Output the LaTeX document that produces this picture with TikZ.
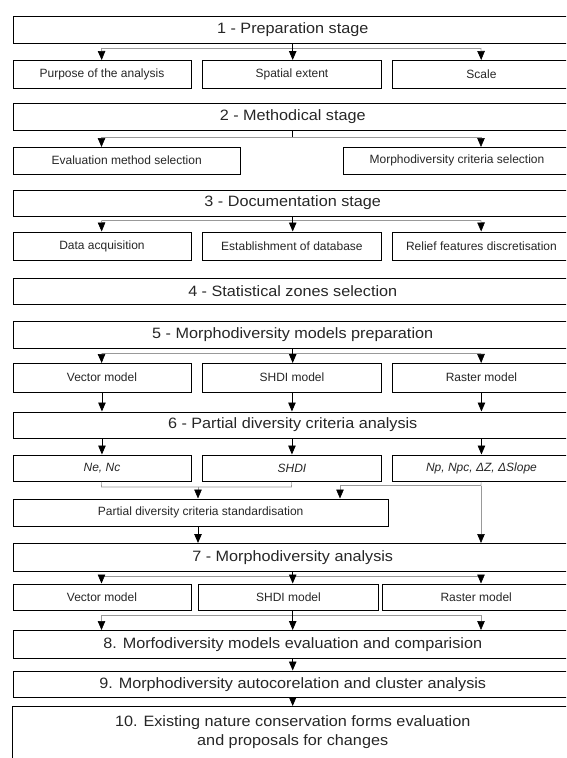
\documentclass[tikz,border=0pt]{standalone}
\usepackage{fontspec}
\setmainfont{Liberation Sans}
\newfontfamily\stagefont[FakeStretch=1.08]{Liberation Sans}
\usetikzlibrary{arrows.meta,calc}

\tikzset{
  stage/.style={draw, anchor=north west, inner sep=0pt, minimum width=559.5pt,
    text=black!85, font=\stagefont\fontsize{15}{19}\selectfont},
  sub/.style={draw, anchor=north west, inner sep=0pt, text=black!85,
    font=\fontsize{12}{14}\selectfont},
  cola/.style={sub, minimum width=178pt},
  colb/.style={sub, minimum width=179pt},
  colc/.style={sub, minimum width=178pt},
  tip/.style={-{Triangle[length=9pt,width=7.5pt,color=black]}},
  branch/.style={draw=black!40, line width=0.6pt},
}

\begin{document}
\begin{tikzpicture}[x=1pt,y=-1pt,line width=0.9pt]
\useasboundingbox (0,0) rectangle (566,758);
\clip (0,0) rectangle (566,758);
\coordinate (bottom) at (0,775);

% 1 - preparation
\node[stage, minimum height=27pt] (b1) at (12.5,16) {1 - Preparation stage};
\node[cola, minimum height=27.5pt] (r1a) at (12.5,60) {Purpose of the analysis};
\node[colb, minimum height=27.5pt] (r1b) at (202,60) {Spatial extent};
\node[colc, minimum height=27.5pt] (r1c) at (392,60) {Scale};
\coordinate (k1a) at (101.5,48);
\coordinate (k1c) at (481,48);
\draw[branch] (k1a) -- (k1c);
\draw[tip] (b1.south) -- (b1.south |- r1b.north);
\draw[branch,tip] (k1a) -- (r1a);
\draw[branch,tip] (k1c) -- (r1c);

% 2 - methodical
\node[stage, minimum height=26.5pt] (b2) at (12.5,103) {2 - Methodical stage};
\node[sub, minimum width=227.5pt, minimum height=26.5pt] (r2a) at (12.5,147) {Evaluation method selection};
\node[sub, minimum width=227pt, minimum height=26.5pt] (r2b) at (343,147) {Morphodiversity criteria selection};
\coordinate (k2a) at (101.5,137);
\coordinate (k2c) at (481,137);
\draw (b2.south) -- (b2.south |- k2a);
\draw[branch] (k2a) -- (k2c);
\draw[branch,tip] (k2a) -- (k2a |- r2a.north);
\draw[branch,tip] (k2c) -- (k2c |- r2b.north);

% 3 - documentation
\node[stage, minimum height=26pt] (b3) at (12.5,189.5) {3 - Documentation stage};
\node[cola, minimum height=28.5pt] (r3a) at (12.5,231.5) {Data acquisition};
\node[colb, minimum height=28.5pt] (r3b) at (202,231.5) {Establishment of database};
\node[colc, minimum height=28.5pt] (r3c) at (392,231.5) {Relief features discretisation};
\coordinate (k3a) at (101.5,220.5);
\coordinate (k3c) at (481,220.5);
\draw[branch] (k3a) -- (k3c);
\draw[tip] (b3.south) -- (b3.south |- r3b.north);
\draw[branch,tip] (k3a) -- (r3a);
\draw[branch,tip] (k3c) -- (r3c);

% 4 - zones
\node[stage, minimum height=26.5pt] (b4) at (12.5,277.5) {4 - Statistical zones selection};

% 5 - models
\node[stage, minimum height=26.5pt] (b5) at (12.5,321) {5 - Morphodiversity models preparation};
\node[cola, minimum height=28.5pt] (r5a) at (12.5,363) {Vector model};
\node[colb, minimum height=28.5pt] (r5b) at (202,363) {SHDI model};
\node[colc, minimum height=28.5pt] (r5c) at (392,363) {Raster model};
\coordinate (k5a) at (101.5,353.5);
\coordinate (k5c) at (481,353.5);
\draw[branch] (k5a) -- (k5c);
\draw[tip] (b5.south) -- (b5.south |- r5b.north);
\draw[branch,tip] (k5a) -- (r5a);
\draw[branch,tip] (k5c) -- (r5c);

% 6 - partial criteria
\node[stage, minimum height=26pt] (b6) at (12.5,411.5) {6 - Partial diversity criteria analysis};
\draw[tip] (r5a) -- (r5a |- b6.north);
\draw[tip] (r5b) -- (r5b |- b6.north);
\draw[tip] (r5c) -- (r5c |- b6.north);
\node[cola, minimum height=26.5pt, font=\fontsize{12}{14}\selectfont\itshape] (r6a) at (12.5,454.5) {Ne, Nc};
\node[colb, minimum height=26.5pt, font=\fontsize{12}{14}\selectfont\itshape] (r6b) at (202,454.5) {SHDI};
\node[colc, minimum height=26.5pt, font=\fontsize{12}{14}\selectfont\itshape] (r6c) at (392,454.5) {Np, Npc, ΔZ, ΔSlope};
\draw[tip] (r6a |- b6.south) -- (r6a);
\draw[tip] (r6b |- b6.south) -- (r6b);
\draw[tip] (r6c |- b6.south) -- (r6c);

% standardisation
\node[sub, minimum width=375.5pt, minimum height=27pt] (st) at (12.5,498.5) {Partial diversity criteria standardisation};
\coordinate (j6a) at (101.5,487);
\coordinate (j6b) at (291.5,487);
\coordinate (j6m) at (198,487);
\coordinate (j6c) at (481,485.5);
\coordinate (j6n) at (340,485.5);
\draw[branch] (r6a) -- (j6a) -- (j6b) -- (r6b);
\draw[branch,tip] (j6m) -- (j6m |- st.north);
\draw[branch] (r6c) -- (j6c) -- (j6n);
\draw[branch,tip] (j6n) -- (j6n |- st.north);

% 7 - analysis
\node[stage, minimum height=27.5pt] (b7) at (12.5,543) {7 - Morphodiversity analysis};
\draw[tip] (j6m |- st.south) -- (j6m |- b7.north);
\draw[branch,tip] (j6c) -- (j6c |- b7.north);
\node[sub, minimum width=178pt, minimum height=26pt] (r7a) at (12.5,583.5) {Vector model};
\node[sub, minimum width=180pt, minimum height=26pt] (r7b) at (198,583.5) {SHDI model};
\node[sub, minimum width=188.5pt, minimum height=26pt] (r7c) at (381.5,583.5) {Raster model};
\coordinate (k7a) at (101.5,576);
\coordinate (k7c) at (481,576);
\draw[branch] (k7a) -- (k7c);
\draw[tip] (b7.south) -- (b7.south |- r7b.north);
\draw[branch,tip] (k7a) -- (k7a |- r7a.north);
\draw[branch,tip] (k7c) -- (k7c |- r7c.north);

% 8 - evaluation
\node[stage, minimum height=27.5pt] (b8) at (12.5,630) {8. Morfodiversity models evaluation and comparision};
\coordinate (k8a) at (101.5,615);
\coordinate (k8c) at (481,615);
\draw[branch] (k8a) -- (k8c);
\draw[tip] (b8.north |- r7b.south) -- (b8.north);
\draw[branch,tip] (k8a) -- (k8a |- b8.north);
\draw[branch,tip] (k8c) -- (k8c |- b8.north);

% 9 - clusters
\node[stage, minimum height=26.5pt] (b9) at (12.5,670.5) {9. Morphodiversity autocorelation and cluster analysis};
\draw[tip] (b8) -- (b9);

% 10 - conservation
\node[stage, draw=none, align=center, minimum height=51pt] (b10) at (12.5,706) {10. Existing nature conservation forms evaluation\\and proposals for changes};
\draw (b10.south west |- bottom) -- (b10.north west) -- (b10.north east) -- (b10.south east |- bottom);
\draw[tip] (b9) -- (b10);

\end{tikzpicture}
\end{document}
